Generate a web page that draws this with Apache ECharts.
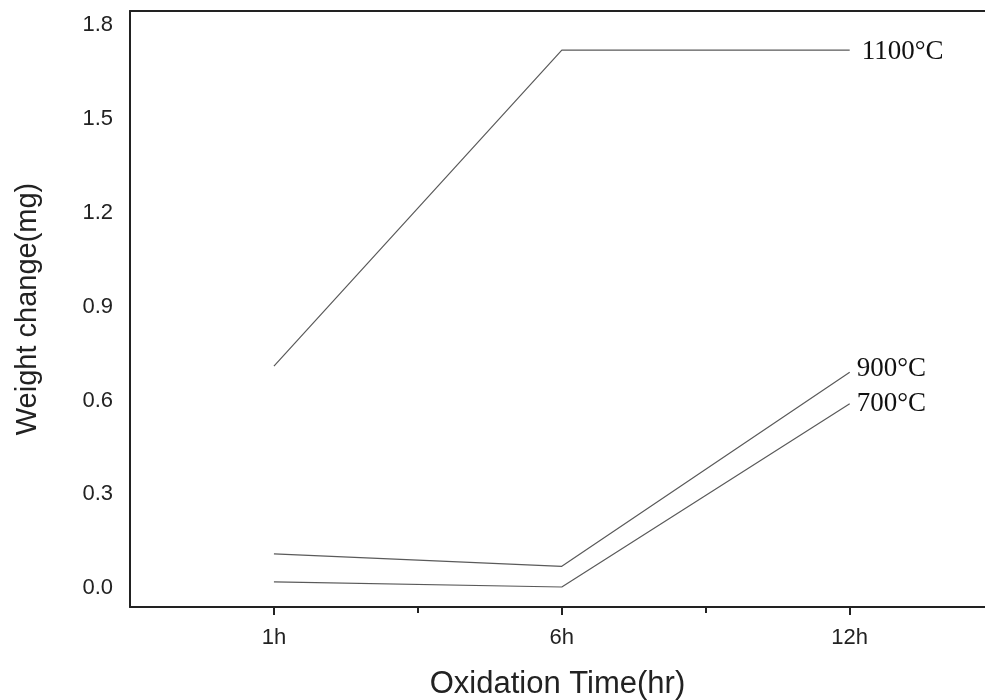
<!DOCTYPE html>
<html>
<head>
<meta charset="utf-8">
<script src="https://cdn.jsdelivr.net/npm/echarts@6/dist/echarts.min.js"></script>
<style>html,body{margin:0;padding:0;background:#fff}#c{width:985px;height:700px}</style>
</head>
<body>
<div id="c"></div>
<script>
var categories = ['1h', '6h', '12h'];
var yTicks = [0, 0.3, 0.6, 0.9, 1.2, 1.5, 1.8];
var seriesNames = ['1100°C', '900°C', '700°C'];
var w1100 = [0.71, 1.72, 1.72];
var w900 = [0.11, 0.07, 0.69];
var w700 = [0.02, 0.004, 0.59];

var chart = echarts.init(document.getElementById('c'));
function pts(arr){ return arr.map(function(v,i){ return [i, v]; }); }
var lineStyle = {color:'#5a5a5a', width:1.2};
function mk(name, arr, dist, dy){
  return {
    name:name, type:'line', data:pts(arr), showSymbol:false, symbol:'none',
    lineStyle:lineStyle, xAxisIndex:0, yAxisIndex:0, animation:false,
    endLabel:{show:true, formatter:name, color:'#111', fontFamily:'Liberation Serif', fontSize:27, distance:dist, offset:[0, dy]}
  };
}
chart.setOption({
  animation:false,
  grid:{left:130, top:11, right:0, bottom:93, containLabel:false, outerBoundsMode:'none'},
  xAxis:[{
    type:'value', min:-0.5, max:2.47, position:'bottom',
    name:'Oxidation Time(hr)', nameLocation:'middle', nameGap:62,
    nameTextStyle:{fontFamily:'Liberation Sans', fontSize:31, color:'#222'},
    axisLine:{show:true, onZero:false, lineStyle:{color:'#222', width:2}},
    axisTick:{show:true, customValues:[0,1,2], length:8, lineStyle:{color:'#222', width:2}},
    axisLabel:{customValues:[0,1,2], formatter:function(v){return categories[Math.round(v)];}, fontFamily:'Liberation Sans', fontSize:22, color:'#222', margin:20},
    splitLine:{show:false}
  },{
    type:'value', min:-0.5, max:2.47, position:'bottom', gridIndex:0,
    axisLine:{show:false, onZero:false},
    axisTick:{show:true, customValues:[0.5,1.5], length:6, lineStyle:{color:'#222', width:2}},
    axisLabel:{show:false}, splitLine:{show:false}
  },{
    type:'value', min:-0.5, max:2.47, position:'top',
    axisLine:{show:true, onZero:false, lineStyle:{color:'#222', width:2}},
    axisTick:{show:false}, axisLabel:{show:false}, splitLine:{show:false}
  }],
  yAxis:[{
    type:'value', min:-0.06, max:1.845,
    name:'Weight change(mg)', nameLocation:'middle', nameGap:88,
    nameTextStyle:{fontFamily:'Liberation Sans', fontSize:29, color:'#222'},
    axisLine:{show:true, onZero:false, lineStyle:{color:'#222', width:2}},
    axisTick:{show:false},
    axisLabel:{customValues:yTicks, formatter:function(v){return v.toFixed(1);}, fontFamily:'Liberation Sans', fontSize:22, color:'#222', margin:17},
    splitLine:{show:false}
  }],
  series:[mk(seriesNames[0], w1100, 12, 2), mk(seriesNames[1], w900, 7, -3), mk(seriesNames[2], w700, 7, 0)]
});
</script>
</body>
</html>
